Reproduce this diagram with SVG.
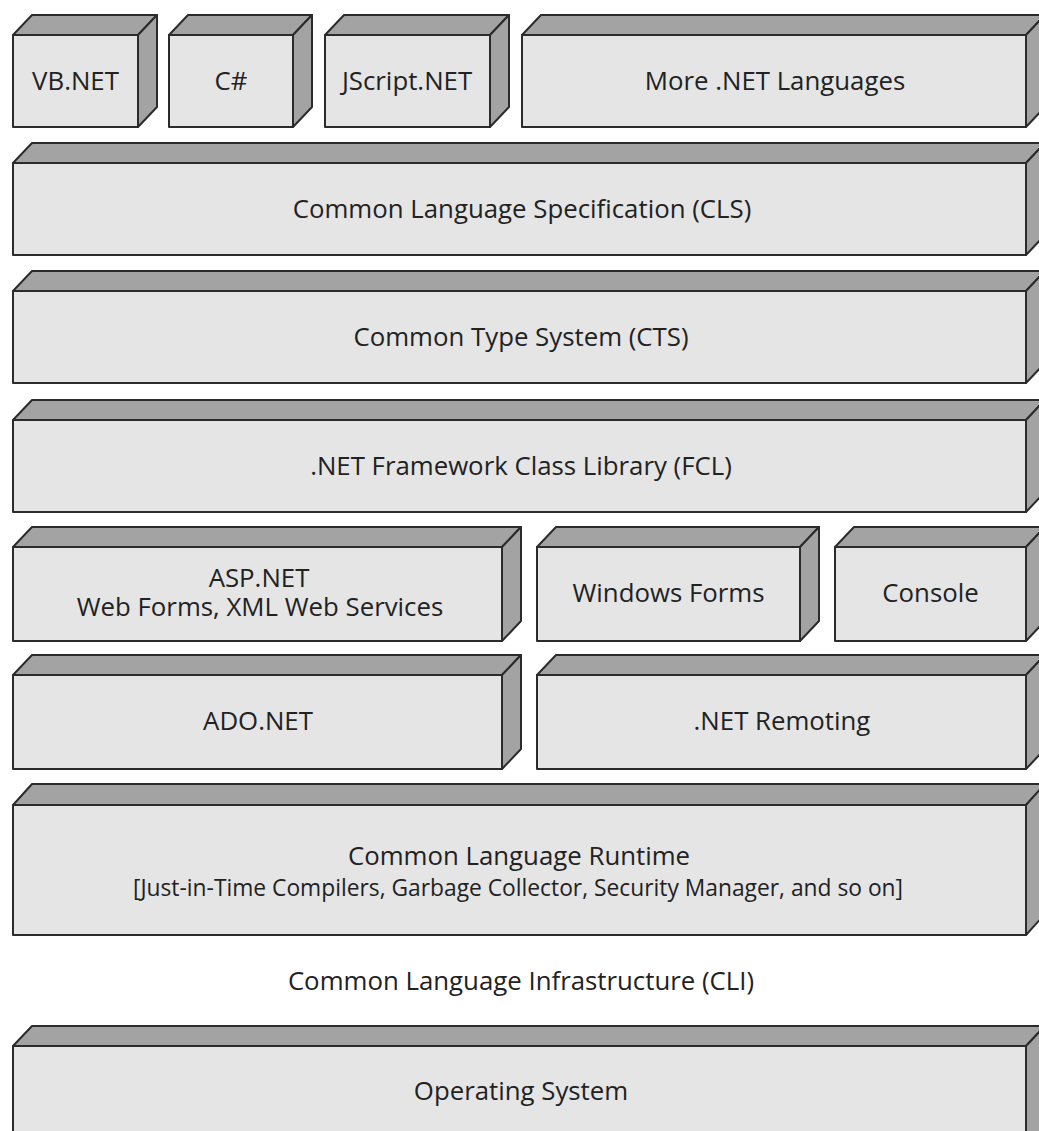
<svg xmlns="http://www.w3.org/2000/svg" width="1039" height="1131" viewBox="0 0 1039 1131">
<style>
.f{fill:#e5e5e5;stroke:#2b2b2b;stroke-width:2;stroke-linejoin:round}
.d{fill:#a3a3a3;stroke:#2b2b2b;stroke-width:2;stroke-linejoin:round}
text{font-family:"Open Sans","Noto Sans",sans-serif;font-size:25.8px;fill:#222;text-anchor:middle}
text.s{font-size:22.8px}
</style>
<rect width="1039" height="1131" fill="#fff"/>
<g id="vbnet">
<polygon class="d" points="13,35 32,15 157,15 138,35"/>
<polygon class="d" points="138,35 157,15 157,107 138,127"/>
<rect class="f" x="13" y="35" width="125" height="92"/>
<text x="75.5" y="90">VB.NET</text>
</g>
<g id="csharp">
<polygon class="d" points="169,35 188,15 312,15 293,35"/>
<polygon class="d" points="293,35 312,15 312,107 293,127"/>
<rect class="f" x="169" y="35" width="124" height="92"/>
<text x="231" y="90">C#</text>
</g>
<g id="jscript">
<polygon class="d" points="325,35 344,15 509,15 490,35"/>
<polygon class="d" points="490,35 509,15 509,107 490,127"/>
<rect class="f" x="325" y="35" width="165" height="92"/>
<text x="407" y="90">JScript.NET</text>
</g>
<g id="more">
<polygon class="d" points="522,35 541,15 1045,15 1026,35"/>
<polygon class="d" points="1026,35 1045,15 1045,107 1026,127"/>
<rect class="f" x="522" y="35" width="504" height="92"/>
<text x="775" y="90">More .NET Languages</text>
</g>
<g id="cls">
<polygon class="d" points="13,163 32,143 1045,143 1026,163"/>
<polygon class="d" points="1026,163 1045,143 1045,235 1026,255"/>
<rect class="f" x="13" y="163" width="1013" height="92"/>
<text x="522" y="218">Common Language Specification (CLS)</text>
</g>
<g id="cts">
<polygon class="d" points="13,291 32,271 1045,271 1026,291"/>
<polygon class="d" points="1026,291 1045,271 1045,363 1026,383"/>
<rect class="f" x="13" y="291" width="1013" height="92"/>
<text x="521" y="346">Common Type System (CTS)</text>
</g>
<g id="fcl">
<polygon class="d" points="13,420 32,400 1045,400 1026,420"/>
<polygon class="d" points="1026,420 1045,400 1045,492 1026,512"/>
<rect class="f" x="13" y="420" width="1013" height="92"/>
<text x="521" y="475">.NET Framework Class Library (FCL)</text>
</g>
<g id="aspnet">
<polygon class="d" points="13,547 32,527 521,527 502,547"/>
<polygon class="d" points="502,547 521,527 521,621 502,641"/>
<rect class="f" x="13" y="547" width="489" height="94"/>
<text x="259" y="587">ASP.NET</text>
<text x="260" y="616">Web Forms, XML Web Services</text>
</g>
<g id="winforms">
<polygon class="d" points="537,547 556,527 819,527 800,547"/>
<polygon class="d" points="800,547 819,527 819,621 800,641"/>
<rect class="f" x="537" y="547" width="263" height="94"/>
<text x="668.5" y="602">Windows Forms</text>
</g>
<g id="console">
<polygon class="d" points="835,547 854,527 1045,527 1026,547"/>
<polygon class="d" points="1026,547 1045,527 1045,621 1026,641"/>
<rect class="f" x="835" y="547" width="191" height="94"/>
<text x="930.5" y="602">Console</text>
</g>
<g id="adonet">
<polygon class="d" points="13,675 32,655 521,655 502,675"/>
<polygon class="d" points="502,675 521,655 521,749 502,769"/>
<rect class="f" x="13" y="675" width="489" height="94"/>
<text x="258" y="730">ADO.NET</text>
</g>
<g id="remoting">
<polygon class="d" points="537,675 556,655 1045,655 1026,675"/>
<polygon class="d" points="1026,675 1045,655 1045,749 1026,769"/>
<rect class="f" x="537" y="675" width="489" height="94"/>
<text x="782" y="730">.NET Remoting</text>
</g>
<g id="clr">
<polygon class="d" points="13,805 32,784 1045,784 1026,805"/>
<polygon class="d" points="1026,805 1045,784 1045,914 1026,935"/>
<rect class="f" x="13" y="805" width="1013" height="130"/>
<text x="519" y="865">Common Language Runtime</text>
<text class="s" x="518" y="896">[Just-in-Time Compilers, Garbage Collector, Security Manager, and so on]</text>
</g>
<g id="cli">
<text x="521" y="990">Common Language Infrastructure (CLI)</text>
</g>
<g id="os">
<polygon class="d" points="13,1046 32,1026 1045,1026 1026,1046"/>
<polygon class="d" points="1026,1046 1045,1026 1045,1130 1026,1150"/>
<rect class="f" x="13" y="1046" width="1013" height="104"/>
<text x="521" y="1100">Operating System</text>
</g>
<g id="connectors"></g>
</svg>
